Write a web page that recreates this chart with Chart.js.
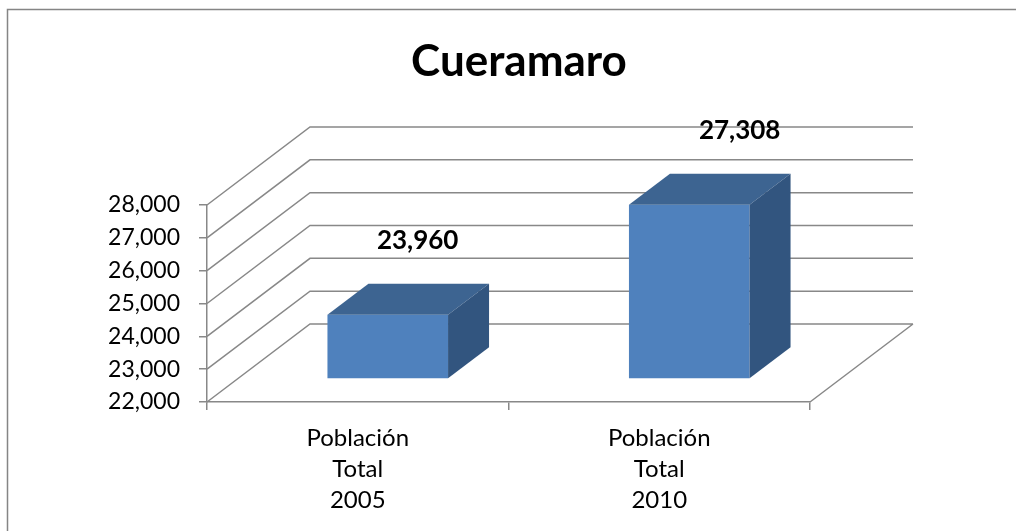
<!DOCTYPE html>
<html>
<head>
<meta charset="utf-8">
<script src="https://cdn.jsdelivr.net/npm/chart.js@4/dist/chart.umd.min.js"></script>
<style>
  html, body { margin: 0; padding: 0; background: #ffffff; }
  canvas { display: block; }
</style>
</head>
<body>
<canvas id="c" width="1016" height="531"></canvas>
<script>
// ---- data ----
const chartTitle = 'Cueramaro';
const categories = [
  ['Población', 'Total', '2005'],
  ['Población', 'Total', '2010']
];
const poblacion = [23960, 27308];
const yMin = 22000;
const yMax = 28000;
const yStep = 1000;

// ---- style constants ----
const FONT = 'Lato, "Open Sans", "DejaVu Sans", sans-serif';
const GRID = '#888888';
const WALL = { dx: 103, dy: -78 };      // depth of the 3D box
const BAR_SHIFT = { dx: 30, dy: -23 };  // bar front face position in depth
const BAR_DEPTH = { dx: 41, dy: -31 };  // bar thickness in depth
const FRONT = '#4F81BD', TOP = '#3D6491', SIDE = '#32557F';

const fmt = v => Number(v).toLocaleString('en-US');

const box3d = {
  id: 'box3d',
  beforeDraw(chart) {
    const ctx = chart.ctx;
    ctx.save();
    ctx.fillStyle = '#ffffff';
    ctx.fillRect(0, 0, chart.width, chart.height);
    ctx.strokeStyle = '#858585';
    ctx.lineWidth = 1.5;
    ctx.strokeRect(7.5, 9.5, chart.width + 20, chart.height + 20);
    ctx.restore();
  },
  beforeDatasetsDraw(chart) {
    const ctx = chart.ctx;
    const { left, right, bottom } = chart.chartArea;
    const y = chart.scales.y;
    ctx.save();
    ctx.strokeStyle = GRID;
    ctx.lineWidth = 1.5;
    ctx.beginPath();
    for (let v = yMin; v <= yMax; v += yStep) {
      const py = y.getPixelForValue(v);
      ctx.moveTo(left, py);
      ctx.lineTo(left + WALL.dx, py + WALL.dy);
      ctx.lineTo(right + WALL.dx, py + WALL.dy);
    }
    ctx.moveTo(right, bottom);
    ctx.lineTo(right + WALL.dx, bottom + WALL.dy);
    ctx.stroke();
    ctx.restore();
  },
  beforeDatasetDraw(chart) {
    chart.ctx.save();
    chart.ctx.translate(BAR_SHIFT.dx, BAR_SHIFT.dy);
  },
  afterDatasetDraw(chart, args) {
    const ctx = chart.ctx;
    ctx.restore();
    ctx.save();
    args.meta.data.forEach(el => {
      const p = el.getProps(['x', 'y', 'base', 'width'], true);
      const l = p.x - p.width / 2 + BAR_SHIFT.dx;
      const r = p.x + p.width / 2 + BAR_SHIFT.dx;
      const t = p.y + BAR_SHIFT.dy;
      const b = p.base + BAR_SHIFT.dy;
      ctx.fillStyle = TOP;
      ctx.beginPath();
      ctx.moveTo(l, t);
      ctx.lineTo(l + BAR_DEPTH.dx, t + BAR_DEPTH.dy);
      ctx.lineTo(r + BAR_DEPTH.dx, t + BAR_DEPTH.dy);
      ctx.lineTo(r, t);
      ctx.closePath();
      ctx.fill();
      ctx.fillStyle = SIDE;
      ctx.beginPath();
      ctx.moveTo(r, t);
      ctx.lineTo(r + BAR_DEPTH.dx, t + BAR_DEPTH.dy);
      ctx.lineTo(r + BAR_DEPTH.dx, b + BAR_DEPTH.dy);
      ctx.lineTo(r, b);
      ctx.closePath();
      ctx.fill();
    });
    ctx.restore();
  },
  afterDatasetsDraw(chart) {
    const ctx = chart.ctx;
    const left = chart.chartArea.left;
    const meta = chart.getDatasetMeta(0);
    ctx.save();
    ctx.font = 'bold 26px ' + FONT;
    ctx.fillStyle = '#000000';
    ctx.textAlign = 'center';
    ctx.textBaseline = 'middle';
    meta.data.forEach((el, i) => {
      const p = el.getProps(['x', 'y'], true);
      const lx = p.x + 49.7 + 0.068 * (p.x - left);
      const ly = p.y - 97.5;
      ctx.fillText(fmt(poblacion[i]), lx, ly);
    });
    ctx.restore();
  }
};

new Chart(document.getElementById('c'), {
  type: 'bar',
  data: {
    labels: categories,
    datasets: [{
      data: poblacion,
      base: yMin,
      backgroundColor: FRONT,
      borderWidth: 0,
      barPercentage: 1,
      categoryPercentage: 0.4,
      clip: false
    }]
  },
  options: {
    responsive: false,
    animation: false,
    devicePixelRatio: 1,
    layout: { padding: { left: 22, right: 0, top: 0, bottom: 0 } },
    plugins: {
      legend: { display: false },
      tooltip: { enabled: false },
      title: {
        display: true,
        text: chartTitle,
        color: '#000000',
        font: { family: FONT, size: 44, weight: 'bold', lineHeight: 1.2 },
        padding: { top: 35.6, bottom: 116.6 }
      }
    },
    scales: {
      x: {
        afterFit: s => { s.height = 129; },
        grid: { display: true, drawOnChartArea: false, drawTicks: true, tickLength: 8, color: GRID, lineWidth: 1.5 },
        border: { display: true, color: GRID, width: 1.5 },
        ticks: {
          color: '#000000',
          font: { family: FONT, size: 24, lineHeight: '31px' },
          padding: 12.5,
          maxRotation: 0,
          autoSkip: false
        }
      },
      y: {
        min: yMin,
        max: yMax,
        afterFit: s => { s.width = 185; },
        grid: { display: true, drawOnChartArea: false, drawTicks: true, tickLength: 8, color: GRID, lineWidth: 1.5 },
        border: { display: true, color: GRID, width: 1.5 },
        ticks: {
          stepSize: yStep,
          color: '#000000',
          font: { family: FONT, size: 23 },
          padding: 19,
          callback: v => fmt(v)
        }
      },
      depthRoom: {
        type: 'linear',
        position: 'right',
        display: true,
        afterFit: s => { s.width = 206; },
        grid: { display: false, drawOnChartArea: false },
        border: { display: false },
        ticks: { display: false }
      }
    }
  },
  plugins: [box3d]
});
</script>
</body>
</html>
